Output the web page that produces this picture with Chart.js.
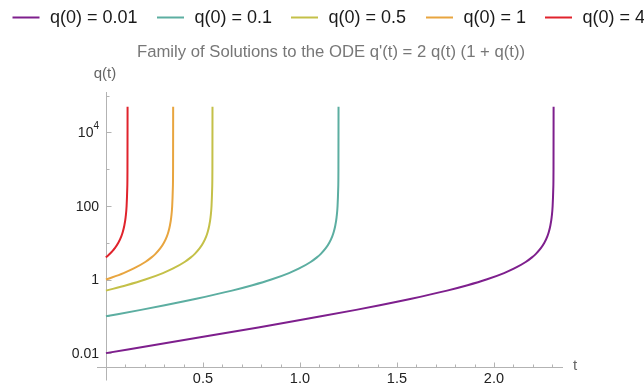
<!DOCTYPE html>
<html>
<head>
<meta charset="utf-8">
<script src="https://cdn.jsdelivr.net/npm/chart.js@4.4.1/dist/chart.umd.min.js"></script>
<style>
html,body{margin:0;padding:0;background:#fff;}
#wrap{width:644px;height:386px;}
</style>
</head>
<body>
<div id="wrap"><canvas id="c" width="644" height="386"></canvas></div>
<script>
// ---- data ----
const seriesLabels = ["q(0) = 0.01", "q(0) = 0.1", "q(0) = 0.5", "q(0) = 1", "q(0) = 4"];
const seriesColors = ["#7e1f8d", "#5caea1", "#c4c048", "#e8a53f", "#e0232c"];

const t001 = [0,0.34165,0.53951,0.78530,0.94410,1.10861,1.28912,1.41168,1.57439,1.75826,1.86391,1.96099,2.05215,2.10483,2.16372,2.19599,2.21640,2.24079,2.25991,2.27529,2.28317,2.29117,2.29766,2.30259,2.30590,2.30706,2.30755];
const q001 = [0.01,0.02,0.03,0.05,0.07,0.1,0.15,0.2,0.3,0.5,0.7,1,1.5,2,3,4,5,7,10,15,20,30,50,100,300,1000,50000];

const t01 = [0,0.18051,0.30307,0.46578,0.64964,0.75530,0.85237,0.94353,0.99622,1.05511,1.08738,1.10779,1.13218,1.15129,1.16668,1.17455,1.18255,1.18905,1.19397,1.19728,1.19845,1.19894];
const q01 = [0.1,0.15,0.2,0.3,0.5,0.7,1,1.5,2,3,4,5,7,10,15,20,30,50,100,300,1000,50000];

const t05 = [0,0.10565,0.20273,0.29389,0.34657,0.40547,0.43773,0.45815,0.48254,0.50165,0.51704,0.52491,0.53291,0.53940,0.54433,0.54764,0.54881,0.54930];
const q05 = [0.5,0.7,1,1.5,2,3,4,5,7,10,15,20,30,50,100,300,1000,50000];

const t1 = [0,0.09116,0.14384,0.20273,0.23500,0.25541,0.27981,0.29892,0.31430,0.32218,0.33018,0.33667,0.34160,0.34491,0.34607,0.34656];
const q1 = [1,1.5,2,3,4,5,7,10,15,20,30,50,100,300,1000,50000];

const t4 = [0,0.01124,0.02041,0.03450,0.04481,0.06392,0.07930,0.08718,0.09518,0.10167,0.10660,0.10991,0.11107,0.11156];
const q4 = [4,4.5,5,6,7,10,15,20,30,50,100,300,1000,50000];

const xMajorTicks = [0.5, 1.0, 1.5, 2.0];
const xTickLabels = ["0.5", "1.0", "1.5", "2.0"];
const xMinorTicks = [0.1,0.2,0.3,0.4,0.6,0.7,0.8,0.9,1.1,1.2,1.3,1.4,1.6,1.7,1.8,1.9,2.1,2.2,2.3];
const yMajorTicks = [0.01, 1, 100, 10000];
const yTickLabels = [["0.01",""], ["1",""], ["100",""], ["10","4"]];
const yMinorTicks = [0.1, 10, 1000, 100000];

const titleText = "Family of Solutions to the ODE q'(t) = 2 q(t) (1 + q(t))";
const xAxisTitle = "t";
const yAxisTitle = "q(t)";

const tArrays = [t001, t01, t05, t1, t4];
const qArrays = [q001, q01, q05, q1, q4];

const FONT = '"Liberation Sans", Arial, Helvetica, sans-serif';

const datasets = seriesLabels.map((lab, i) => ({
  label: lab,
  data: tArrays[i].map((t, j) => ({x: t, y: qArrays[i][j]})),
  borderColor: seriesColors[i],
  backgroundColor: seriesColors[i],
  borderWidth: 2,
  pointRadius: 0,
  fill: false,
  cubicInterpolationMode: 'monotone'
}));

const decor = {
  id: 'decor',
  beforeDatasetsDraw(chart) {
    const ctx = chart.ctx, xs = chart.scales.x, ys = chart.scales.y, ca = chart.chartArea;
    const x0 = Math.round(xs.getPixelForValue(0)) + 0.5;
    const yb = Math.round(ca.bottom) + 0.5;
    ctx.save();
    ctx.strokeStyle = '#b3b3b3';
    ctx.lineWidth = 1;
    ctx.beginPath();
    ctx.moveTo(ca.left, yb); ctx.lineTo(ca.right, yb);
    ctx.moveTo(x0, ca.top); ctx.lineTo(x0, yb + 13);
    xMajorTicks.forEach(v => { const p = Math.round(xs.getPixelForValue(v)) + 0.5; ctx.moveTo(p, yb); ctx.lineTo(p, yb - 5); });
    xMinorTicks.forEach(v => { const p = Math.round(xs.getPixelForValue(v)) + 0.5; ctx.moveTo(p, yb); ctx.lineTo(p, yb - 3); });
    yMajorTicks.forEach(v => { const p = Math.round(ys.getPixelForValue(v)) + 0.5; ctx.moveTo(x0, p); ctx.lineTo(x0 + 5, p); });
    yMinorTicks.forEach(v => { const p = Math.round(ys.getPixelForValue(v)) + 0.5; if (p >= ca.top) { ctx.moveTo(x0, p); ctx.lineTo(x0 + 3, p); } });
    ctx.stroke();
    ctx.restore();
  },
  afterDraw(chart) {
    const ctx = chart.ctx, xs = chart.scales.x, ys = chart.scales.y, ca = chart.chartArea;
    ctx.save();
    // tick labels
    ctx.fillStyle = '#222';
    ctx.font = '14.5px ' + FONT;
    ctx.textAlign = 'center';
    ctx.textBaseline = 'middle';
    xMajorTicks.forEach((v, i) => ctx.fillText(xTickLabels[i], xs.getPixelForValue(v), ca.bottom + 12));
    yMajorTicks.forEach((v, i) => {
      const p = ys.getPixelForValue(v);
      const [base, sup] = yTickLabels[i];
      const right = 99;
      ctx.font = '10px ' + FONT;
      const sw = sup ? ctx.measureText(sup).width : 0;
      ctx.textAlign = 'right';
      if (sup) ctx.fillText(sup, right, p - 6);
      ctx.font = '14px ' + FONT;
      ctx.fillText(base, right - sw, p + 1);
    });
    // axis titles
    ctx.fillStyle = '#666';
    ctx.font = '15px ' + FONT;
    ctx.textAlign = 'center';
    ctx.fillText(yAxisTitle, 105, 74);
    ctx.textAlign = 'left';
    ctx.fillText(xAxisTitle, 573, 366);
    // title
    ctx.fillStyle = '#777';
    ctx.font = '16.7px ' + FONT;
    ctx.textAlign = 'center';
    ctx.fillText(titleText, 331, 52);
    // legend
    const lineX = [12.5, 157, 291, 426, 545];
    ctx.font = '18px ' + FONT;
    ctx.textAlign = 'left';
    seriesLabels.forEach((lab, i) => {
      ctx.strokeStyle = seriesColors[i];
      ctx.lineWidth = 2;
      ctx.beginPath();
      ctx.moveTo(lineX[i], 17.5); ctx.lineTo(lineX[i] + 27, 17.5);
      ctx.stroke();
      ctx.fillStyle = '#1a1a1a';
      ctx.fillText(lab, lineX[i] + 37.5, 18.5);
    });
    ctx.restore();
  }
};

new Chart(document.getElementById('c'), {
  type: 'line',
  data: { datasets },
  options: {
    responsive: false,
    animation: false,
    layout: { padding: { left: 97, right: 81, top: 92, bottom: 19 } },
    plugins: { legend: { display: false }, title: { display: false }, tooltip: { enabled: false } },
    scales: {
      x: { type: 'linear', min: -0.046, max: 2.356, display: false },
      y: { type: 'logarithmic', min: 0.0042, max: 125000, display: false }
    }
  },
  plugins: [decor]
});
</script>
</body>
</html>
